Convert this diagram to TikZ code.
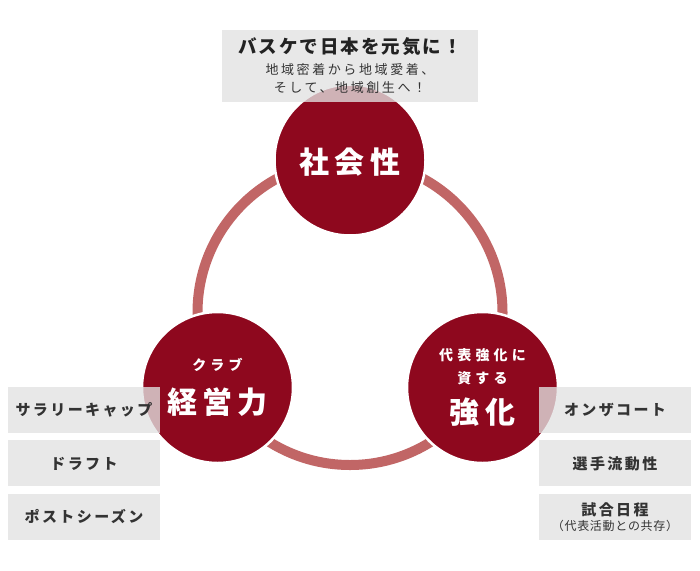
\documentclass[tikz,border=0pt]{standalone}
\usepackage{fontspec}
\setmainfont{Noto Sans CJK JP}[BoldFont={Noto Sans CJK JP Black}]
\usetikzlibrary{positioning}
\definecolor{bkwine}{RGB}{142,8,30}
\definecolor{bkring}{RGB}{193,102,102}
\definecolor{bkbox}{RGB}{226,226,226}
\definecolor{bkink}{RGB}{51,51,51}
\definecolor{bkdark}{RGB}{34,34,34}
\tikzset{
  hub/.style={circle, fill=bkwine, draw=white, line width=2.5pt,
              minimum size=151pt, inner sep=0pt},
  tag/.style={rectangle, fill=bkbox, fill opacity=0.78, text opacity=1,
              minimum width=152pt, minimum height=46pt, inner sep=0pt,
              align=center, text=bkink,
              font=\fontsize{15}{18}\selectfont\bfseries\addfontfeature{LetterSpace=16}},
  note/.style={tag, minimum width=256pt, minimum height=72pt},
  big/.style={text=white, inner sep=0pt,
              font=\fontsize{30}{32}\selectfont\bfseries\addfontfeature{LetterSpace=18}},
  lead/.style={text=white, inner sep=0pt,
               font=\fontsize{14}{16}\selectfont\bfseries\addfontfeature{LetterSpace=30}},
  head/.style={text=bkdark, inner sep=0pt,
               font=\fontsize{18.5}{20}\selectfont\bfseries\addfontfeature{LetterSpace=11}},
  sub/.style={text=bkink, inner sep=0pt,
              font=\fontsize{13}{15}\selectfont\addfontfeature{LetterSpace=20}},
}

\begin{document}
\begin{tikzpicture}[x=1pt, y=-1pt]
\useasboundingbox (0,0) rectangle (700,570);
% ring behind the three circles
\coordinate (ring) at (350,312.5);
\draw[bkring, line width=10pt] (ring) circle[radius=152.5];
\node[hub] (social) at (350,160) {};
\node[hub] (club) at (217.5,387.5) {};
\node[hub] (rep) at (482.5,387.5) {};
% boxes
\node[note] (motto) at (350,66) {};
\node[tag] (cap) at (84,410) {サラリーキャップ};
\node[tag, below=7pt of cap] (draft) {ドラフト};
\node[tag, below=7pt of draft] (post) {ポストシーズン};
\node[tag] (court) at (615,410) {オンザコート};
\node[tag, below=7pt of court] (move) {選手流動性};
\node[tag, below=7pt of move] (sched) {試合日程\\[-3pt]{\fontsize{12}{14}\selectfont\mdseries\addfontfeature{LetterSpace=6}（代表活動との共存）}};
% texts
\node[head] (mottohead) at ([yshift=19pt]motto.center) {バスケで日本を元気に！};
\node[sub] (mottoa) at ([yshift=-4pt]motto.center) {地域密着から地域愛着、};
\node[sub] (mottob) at ([yshift=-22pt]motto.center) {そして、地域創生へ！};
\node[big] (socialtxt) at ([yshift=-2pt]social.center) {社会性};
\node[lead] (clubsub) at ([yshift=22.5pt]club.center) {クラブ};
\node[big] (clubtxt) at ([yshift=-14.5pt]club.center) {経営力};
\node[lead] (repsuba) at ([yshift=32.5pt]rep.center) {代表強化に};
\node[lead] (repsubb) at ([yshift=9.5pt]rep.center) {資する};
\node[big] (reptxt) at ([yshift=-24.5pt]rep.center) {強化};
\end{tikzpicture}
\end{document}
